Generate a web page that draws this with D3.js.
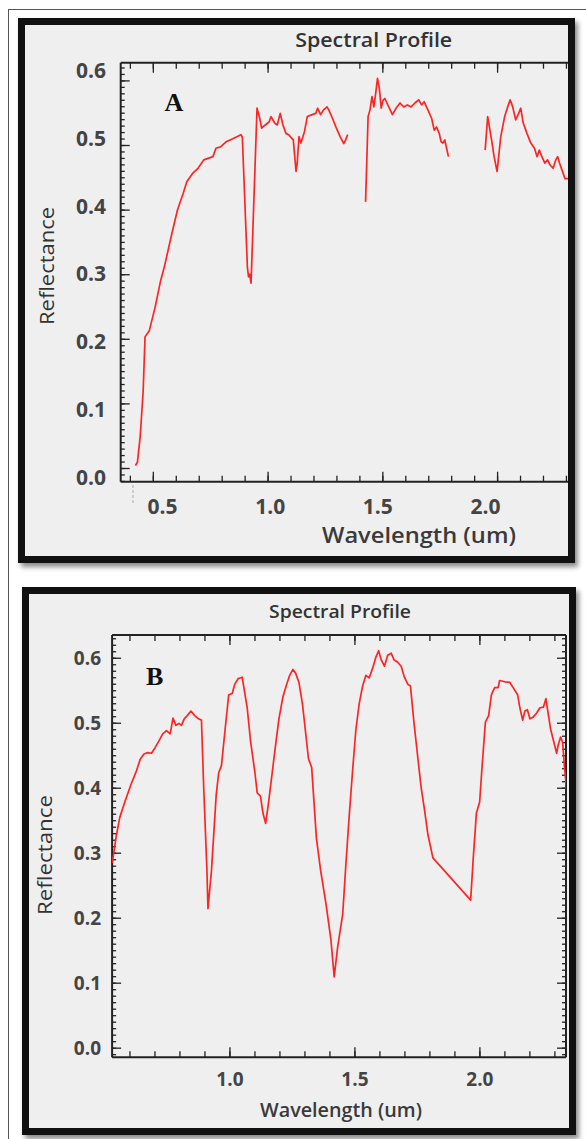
<!DOCTYPE html>
<html>
<head>
<meta charset="utf-8">
<script src="https://cdn.jsdelivr.net/npm/d3@7"></script>
<style>
  body { margin: 0; background: #fff; }
  svg { display: block; }
</style>
</head>
<body>
<div id="chart"></div>
<script>
// --- datos ---
const yTicks = [0.0, 0.1, 0.2, 0.3, 0.4, 0.5, 0.6];
const xTicksA = [0.5, 1.0, 1.5, 2.0];
const xTicksB = [1.0, 1.5, 2.0];

// espectro A (null = banda de agua eliminada)
const waveA = [0.424, 0.433, 0.445, 0.458, 0.466, 0.485, 0.51, 0.534, 0.55, 0.583, 0.607, 0.632, 0.648, 0.673, 0.697,
  0.722, 0.762, 0.775, 0.795, 0.819, 0.844, 0.868, 0.884, 0.89, 0.912, 0.917, 0.922, 0.928, 0.954, 0.966, 0.974,
  0.99, 1.007, 1.015, 1.031, 1.042, 1.055, 1.067, 1.08, 1.091, 1.112, 1.124, 1.129, 1.137, 1.145, 1.161, 1.173,
  1.194, 1.21, 1.218, 1.231, 1.243, 1.259, 1.267, 1.283, 1.3, 1.316, 1.332, 1.34, 1.349, null,
  1.427, 1.438, 1.446, 1.455, 1.463, 1.471, 1.479, 1.487, 1.495, 1.503, 1.511, 1.528, 1.544, 1.56, 1.577, 1.593,
  1.609, 1.625, 1.642, 1.658, 1.671, 1.682, 1.699, 1.715, 1.726, 1.736, 1.748, 1.756, 1.764, 1.772, 1.78, 1.788, null,
  1.948, 1.959, 1.976, 1.987, 2.0, 2.016, 2.033, 2.046, 2.057, 2.068, 2.081, 2.094, 2.103, 2.114, 2.13, 2.147,
  2.163, 2.174, 2.184, 2.195, 2.208, 2.22, 2.231, 2.244, 2.256, 2.264, 2.272, 2.285, 2.296, 2.309, 2.33];
const reflA = [0.004, 0.009, 0.049, 0.12, 0.203, 0.213, 0.249, 0.29, 0.311, 0.363, 0.399, 0.425, 0.443, 0.456, 0.464,
  0.477, 0.482, 0.495, 0.497, 0.505, 0.509, 0.513, 0.516, 0.512, 0.311, 0.296, 0.3, 0.286, 0.557, 0.541, 0.526,
  0.531, 0.536, 0.544, 0.534, 0.531, 0.549, 0.531, 0.518, 0.516, 0.508, 0.459, 0.472, 0.513, 0.503, 0.521, 0.544,
  0.547, 0.549, 0.557, 0.547, 0.554, 0.559, 0.554, 0.541, 0.526, 0.513, 0.502, 0.508, 0.516, null,
  0.412, 0.544, 0.554, 0.575, 0.559, 0.58, 0.603, 0.588, 0.557, 0.569, 0.572, 0.559, 0.547, 0.557, 0.565, 0.559,
  0.562, 0.559, 0.565, 0.57, 0.562, 0.567, 0.554, 0.541, 0.523, 0.528, 0.518, 0.505, 0.503, 0.508, 0.495, 0.482, null,
  0.492, 0.544, 0.508, 0.482, 0.459, 0.513, 0.544, 0.559, 0.57, 0.559, 0.539, 0.549, 0.557, 0.534, 0.518, 0.503,
  0.495, 0.482, 0.492, 0.482, 0.472, 0.477, 0.469, 0.464, 0.477, 0.482, 0.472, 0.459, 0.448, 0.448, 0.448];

// espectro B
const waveB = [0.531, 0.546, 0.561, 0.583, 0.606, 0.628, 0.643, 0.658, 0.673, 0.688, 0.703, 0.718, 0.733, 0.748,
  0.763, 0.774, 0.786, 0.798, 0.808, 0.819, 0.831, 0.846, 0.861, 0.876, 0.888, 0.897, 0.91, 0.914, 0.928, 0.947,
  0.957, 0.968, 0.984, 0.997, 1.011, 1.021, 1.035, 1.051, 1.071, 1.084, 1.102, 1.111, 1.124, 1.134, 1.145, 1.155,
  1.171, 1.185, 1.198, 1.214, 1.228, 1.241, 1.254, 1.265, 1.278, 1.292, 1.305, 1.316, 1.329, 1.348, 1.365, 1.386,
  1.406, 1.419, 1.433, 1.453, 1.466, 1.479, 1.493, 1.506, 1.519, 1.533, 1.546, 1.559, 1.573, 1.586, 1.597, 1.606,
  1.62, 1.633, 1.647, 1.658, 1.673, 1.687, 1.7, 1.714, 1.724, 1.738, 1.754, 1.767, 1.78, 1.794, 1.814, 1.965,
  1.975, 1.988, 2.001, 2.011, 2.024, 2.037, 2.048, 2.061, 2.075, 2.081, 2.102, 2.122, 2.135, 2.153, 2.162, 2.173,
  2.182, 2.192, 2.202, 2.216, 2.229, 2.242, 2.256, 2.266, 2.276, 2.285, 2.296, 2.309, 2.316, 2.325, 2.333, 2.34,
  2.348, 2.356];
const reflB = [0.284, 0.323, 0.354, 0.38, 0.405, 0.426, 0.444, 0.452, 0.454, 0.453, 0.462, 0.472, 0.483, 0.488,
  0.483, 0.507, 0.496, 0.499, 0.496, 0.506, 0.511, 0.518, 0.511, 0.506, 0.504, 0.4, 0.272, 0.214, 0.272, 0.389,
  0.423, 0.434, 0.495, 0.543, 0.545, 0.559, 0.568, 0.57, 0.523, 0.473, 0.423, 0.392, 0.387, 0.361, 0.345, 0.373,
  0.423, 0.467, 0.506, 0.54, 0.558, 0.573, 0.582, 0.576, 0.562, 0.529, 0.484, 0.445, 0.431, 0.322, 0.272, 0.222,
  0.166, 0.109, 0.155, 0.205, 0.283, 0.356, 0.428, 0.49, 0.529, 0.557, 0.573, 0.569, 0.584, 0.601, 0.611, 0.598,
  0.587, 0.604, 0.607, 0.597, 0.593, 0.587, 0.57, 0.559, 0.557, 0.501, 0.445, 0.4, 0.367, 0.328, 0.292, 0.227,
  0.289, 0.361, 0.378, 0.434, 0.501, 0.511, 0.543, 0.554, 0.554, 0.565, 0.563, 0.562, 0.554, 0.543, 0.523, 0.504,
  0.518, 0.52, 0.506, 0.509, 0.515, 0.523, 0.524, 0.537, 0.512, 0.49, 0.473, 0.453, 0.467, 0.478, 0.47, 0.434,
  0.4, 0.378];

const W = 586, H = 1139;
const svg = d3.select("#chart").append("svg").attr("width", W).attr("height", H);

const defs = svg.append("defs");
defs.append("filter").attr("id", "shadow")
  .attr("x", "-5%").attr("y", "-5%").attr("width", "115%").attr("height", "115%")
  .append("feDropShadow")
  .attr("dx", 3).attr("dy", 4).attr("stdDeviation", 2.5)
  .attr("flood-color", "#000").attr("flood-opacity", 0.45);

// marco fino exterior
svg.append("rect").attr("x", 8.5).attr("y", 9.5).attr("width", 700).attr("height", 1200)
  .attr("fill", "none").attr("stroke", "#555").attr("stroke-width", 1);

const FONT = "'Open Sans', 'DejaVu Sans', sans-serif";

// panel geometry (pixeles de la imagen)
const panels = [
  {
    id: "A", wave: waveA, refl: reflA, xTicks: xTicksA,
    frame: [18, 18, 575, 563],
    left: 120.7, right: 568, top: 62.7, bottom: 481.7,
    xDomain: [0.36, 2.309], yDomain: [-0.0212, 0.6274],
    // las etiquetas de la figura original no caen sobre las marcas
    labelX: d3.scaleLinear().domain([0.5, 2.0]).range([162, 485]),
    labelY: d3.scaleLinear().domain([0, 0.6]).range([476.7, 70]),
    tickFont: 21, yLabelRight: 106, xLabelBase: 514,
    title: { x: 373.7, y: 47, size: 20, len: 157 },
    xTitle: { x: 419, y: 543, size: 22, len: 194 },
    yTitle: { x: 54, y: 266, size: 20, len: 118 },
    letter: { x: 174, y: 111, size: 26 },
    rightAxis: false
  },
  {
    id: "B", wave: waveB, refl: reflB, xTicks: xTicksB,
    frame: [22, 587, 576, 1135],
    left: 112.1, right: 566, top: 635, bottom: 1057.3,
    xDomain: [0.5305, 2.3465], yDomain: [-0.0148, 0.635],
    labelX: null, labelY: null,
    tickFont: 19, yLabelRight: 101, xLabelBase: 1086,
    title: { x: 340, y: 618, size: 18, len: 142 },
    xTitle: { x: 341, y: 1117, size: 19, len: 162 },
    yTitle: { x: 51.5, y: 855, size: 20, len: 120 },
    letter: { x: 154.7, y: 684.5, size: 26 },
    rightAxis: true
  }
];

panels.forEach(drawPanel);

function drawPanel(p) {
  const [fx0, fy0, fx1, fy1] = p.frame;
  const g = svg.append("g");

  // fondo + sombra
  g.append("rect")
    .attr("x", fx0 + 3.5).attr("y", fy0 + 3.5)
    .attr("width", fx1 - fx0 - 7).attr("height", fy1 - fy0 - 7)
    .attr("fill", "#efefef").attr("stroke", "#111").attr("stroke-width", 7)
    .attr("filter", "url(#shadow)");

  const x = d3.scaleLinear().domain(p.xDomain).range([p.left, p.right]);
  const y = d3.scaleLinear().domain(p.yDomain).range([p.bottom, p.top]);
  const lx = p.labelX || x;
  const ly = p.labelY || y;

  const xMinor = d3.range(0, 25).map(i => i / 10).filter(v => v >= p.xDomain[0] && v <= p.xDomain[1]);
  const xMajor = [0.5, 1.0, 1.5, 2.0].filter(v => v >= p.xDomain[0] && v <= p.xDomain[1]);
  const yMinor = d3.range(-3, 64).map(i => i / 100).filter(v => v >= p.yDomain[0] && v <= p.yDomain[1]);
  const yMajor = yTicks.filter(v => v <= p.yDomain[1]);

  const axisStyle = sel => {
    sel.selectAll("path.domain").remove();
    sel.selectAll("line").attr("stroke", "#222").attr("stroke-width", 1.3);
  };

  // marcas (hacia dentro)
  g.append("g").attr("transform", `translate(0,${p.top})`)
    .call(d3.axisBottom(x).tickValues(xMinor).tickSize(6).tickFormat("")).call(axisStyle);
  g.append("g").attr("transform", `translate(0,${p.top})`)
    .call(d3.axisBottom(x).tickValues(xMajor).tickSize(10).tickFormat("")).call(axisStyle);
  g.append("g").attr("transform", `translate(0,${p.bottom})`)
    .call(d3.axisTop(x).tickValues(xMinor).tickSize(6).tickFormat("")).call(axisStyle);
  g.append("g").attr("transform", `translate(0,${p.bottom})`)
    .call(d3.axisTop(x).tickValues(xMajor).tickSize(10).tickFormat("")).call(axisStyle);
  g.append("g").attr("transform", `translate(${p.left},0)`)
    .call(d3.axisRight(y).tickValues(yMinor).tickSize(4).tickFormat("")).call(axisStyle);
  g.append("g").attr("transform", `translate(${p.left},0)`)
    .call(d3.axisRight(y).tickValues(yMajor).tickSize(9).tickFormat("")).call(axisStyle);
  if (p.rightAxis) {
    g.append("g").attr("transform", `translate(${p.right},0)`)
      .call(d3.axisLeft(y).tickValues(yMinor).tickSize(4).tickFormat("")).call(axisStyle);
    g.append("g").attr("transform", `translate(${p.right},0)`)
      .call(d3.axisLeft(y).tickValues(yMajor).tickSize(9).tickFormat("")).call(axisStyle);
  }

  // lineas de ejes
  const box = g.append("g").attr("stroke", "#222").attr("stroke-width", 2).attr("fill", "none");
  box.append("line").attr("x1", p.left).attr("x2", p.right).attr("y1", p.top).attr("y2", p.top);
  box.append("line").attr("x1", p.left).attr("x2", p.right).attr("y1", p.bottom).attr("y2", p.bottom);
  box.append("line").attr("x1", p.left).attr("x2", p.left).attr("y1", p.top).attr("y2", p.bottom);
  if (p.rightAxis)
    box.append("line").attr("x1", p.right).attr("x2", p.right).attr("y1", p.top).attr("y2", p.bottom);

  // curva
  const clipId = "clip" + p.id;
  defs.append("clipPath").attr("id", clipId).append("rect")
    .attr("x", p.left).attr("y", p.top).attr("width", p.right - p.left).attr("height", p.bottom - p.top);
  const pts = p.wave.map((w, i) => ({ w: w, r: p.refl[i] }));
  const line = d3.line().defined(d => d.r !== null).x(d => x(d.w)).y(d => y(d.r));
  g.append("path").datum(pts).attr("clip-path", `url(#${clipId})`)
    .attr("d", line).attr("fill", "none")
    .attr("stroke", "#ff2424").attr("stroke-width", 1.7).attr("stroke-linejoin", "round");

  // etiquetas
  const lab = sel => {
    sel.selectAll("path.domain").remove();
    sel.selectAll("line").remove();
    sel.selectAll("text").attr("font-family", FONT).attr("font-weight", 700)
      .attr("font-size", p.tickFont).attr("fill", "#444");
  };
  g.append("g").attr("transform", `translate(${p.yLabelRight},0)`)
    .call(d3.axisLeft(ly).tickValues(yTicks).tickSize(0).tickPadding(0).tickFormat(d3.format(".1f")))
    .call(lab)
    .selectAll("text").attr("dy", "0.36em");
  g.append("g").attr("transform", `translate(0,${p.xLabelBase})`)
    .call(d3.axisBottom(lx).tickValues(p.xTicks).tickSize(0).tickPadding(0).tickFormat(d3.format(".1f")))
    .call(lab)
    .selectAll("text").attr("y", 0).attr("dy", null);

  // textos
  g.append("text").attr("x", p.title.x).attr("y", p.title.y).attr("text-anchor", "middle")
    .attr("font-family", FONT).attr("font-weight", 600).attr("font-size", p.title.size)
    .attr("fill", "#333").attr("textLength", p.title.len).attr("lengthAdjust", "spacingAndGlyphs")
    .text("Spectral Profile");
  g.append("text").attr("x", p.xTitle.x).attr("y", p.xTitle.y).attr("text-anchor", "middle")
    .attr("font-family", FONT).attr("font-weight", 600).attr("font-size", p.xTitle.size)
    .attr("fill", "#3a3a3a").attr("textLength", p.xTitle.len).attr("lengthAdjust", "spacingAndGlyphs")
    .text("Wavelength (um)");
  g.append("text").attr("transform", `translate(${p.yTitle.x},${p.yTitle.y}) rotate(-90)`)
    .attr("text-anchor", "middle")
    .attr("font-family", FONT).attr("font-weight", 400).attr("font-size", p.yTitle.size)
    .attr("fill", "#333").attr("textLength", p.yTitle.len).attr("lengthAdjust", "spacingAndGlyphs")
    .text("Reflectance");
  g.append("text").attr("x", p.letter.x).attr("y", p.letter.y).attr("text-anchor", "middle")
    .attr("font-family", "'Liberation Serif', 'Times New Roman', serif").attr("font-weight", 700)
    .attr("font-size", p.letter.size).attr("fill", "#111")
    .text(p.id);

  // marco encima de todo
  g.append("rect")
    .attr("x", fx0 + 3.5).attr("y", fy0 + 3.5)
    .attr("width", fx1 - fx0 - 7).attr("height", fy1 - fy0 - 7)
    .attr("fill", "none").attr("stroke", "#111").attr("stroke-width", 7);
}

// pequeña marca gris junto a "0.5" del panel A (artefacto de la figura original)
svg.append("line").attr("x1", 133).attr("x2", 133).attr("y1", 485).attr("y2", 503)
  .attr("stroke", "#c4c4c4").attr("stroke-width", 1.5).attr("stroke-dasharray", "3,2");
</script>
</body>
</html>
